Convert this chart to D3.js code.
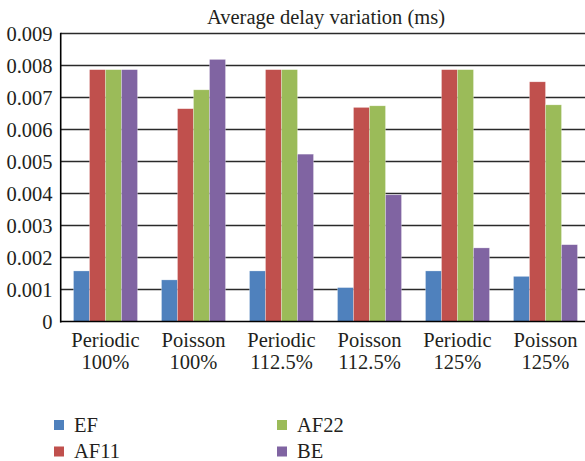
<!DOCTYPE html>
<html>
<head>
<meta charset="utf-8">
<script src="https://cdn.jsdelivr.net/npm/d3@7/dist/d3.min.js"></script>
<style>
  html, body { margin: 0; padding: 0; background: #fff; }
  svg { display: block; }
  text { font-family: "Liberation Serif", "DejaVu Serif", serif; fill: #231f20; }
</style>
</head>
<body>
<svg id="chart" width="585" height="461"></svg>
<script>
const categories = [["Periodic","100%"],["Poisson","100%"],["Periodic","112.5%"],["Poisson","112.5%"],["Periodic","125%"],["Poisson","125%"]];
const seriesNames = ["EF", "AF11", "AF22", "BE"];
const EF   = [0.00158, 0.00130, 0.00158, 0.00106, 0.00158, 0.00141];
const AF11 = [0.00787, 0.00665, 0.00787, 0.00669, 0.00787, 0.00749];
const AF22 = [0.00787, 0.00724, 0.00787, 0.00674, 0.00787, 0.00677];
const BE   = [0.00787, 0.00819, 0.00523, 0.00396, 0.00230, 0.00240];
const yTicks = [0, 0.001, 0.002, 0.003, 0.004, 0.005, 0.006, 0.007, 0.008, 0.009];
const colors = ["#4f81bd", "#c0504d", "#9bbb59", "#8064a2"];
const title = "Average delay variation (ms)";

const seriesValues = [EF, AF11, AF22, BE];
const svg = d3.select("#chart");
const FS = 20.5;

const catKeys = categories.map((c, i) => i);
const x0 = d3.scaleBand().domain(catKeys).range([61.5, 589.5]).paddingInner(0.2727).paddingOuter(0.1364);
const x1 = d3.scaleBand().domain(seriesNames).range([0, x0.bandwidth()]);
const y = d3.scaleLinear().domain([0, 0.009]).range([321.5, 33.5]);

// gridlines
svg.append("g").selectAll("line").data(yTicks.filter(d => d > 0)).join("line")
  .attr("x1", 61).attr("x2", 590)
  .attr("y1", d => y(d)).attr("y2", d => y(d))
  .attr("stroke", "#2a2a2a").attr("stroke-width", 1.4);

// y tick labels
svg.append("g").selectAll("text").data(yTicks).join("text")
  .attr("x", 52.5).attr("y", d => y(d)).attr("dy", "0.35em")
  .attr("text-anchor", "end").attr("font-size", FS)
  .text(d => d === 0 ? "0" : d.toFixed(3));

// bars
const groups = svg.append("g").selectAll("g").data(catKeys).join("g")
  .attr("transform", d => `translate(${x0(d)},0)`);
groups.selectAll("rect").data(ci => seriesNames.map((s, si) => ({s, si, v: seriesValues[si][ci]}))).join("rect")
  .attr("x", d => x1(d.s)).attr("width", x1.bandwidth())
  .attr("y", d => y(d.v)).attr("height", d => y(0) - y(d.v))
  .attr("fill", d => colors[d.si])
  .attr("stroke", "rgba(255,255,255,0.45)").attr("stroke-width", 0.6);

// axes lines
svg.append("line").attr("x1", 60.7).attr("x2", 60.7).attr("y1", y(0.009) - 0.7).attr("y2", y(0) + 1)
  .attr("stroke", "#000").attr("stroke-width", 1.6);
svg.append("line").attr("x1", 60).attr("x2", 590).attr("y1", y(0)).attr("y2", y(0))
  .attr("stroke", "#000").attr("stroke-width", 1.6);

// x labels
const xl = svg.append("g").selectAll("text").data(catKeys).join("text")
  .attr("text-anchor", "middle").attr("font-size", FS)
  .attr("transform", d => `translate(${x0(d) + x0.bandwidth() / 2},0)`);
xl.append("tspan").attr("x", 0).attr("y", 346.5).text(d => categories[d][0]);
xl.append("tspan").attr("x", 0).attr("y", 368.5).text(d => categories[d][1]);

// title
svg.append("text").attr("x", 326).attr("y", 24).attr("text-anchor", "middle")
  .attr("font-size", FS).text(title);

// legend
const legPos = [[54, 420], [54, 446.5], [277, 420], [277, 446.5]];
const leg = svg.append("g").selectAll("g").data(seriesNames).join("g")
  .attr("transform", (d, i) => `translate(${legPos[i][0]},${legPos[i][1]})`);
leg.append("rect").attr("width", 10).attr("height", 10).attr("fill", (d, i) => colors[i]);
leg.append("text").attr("x", 20).attr("y", 11.5).attr("font-size", FS).text(d => d);
</script>
</body>
</html>
